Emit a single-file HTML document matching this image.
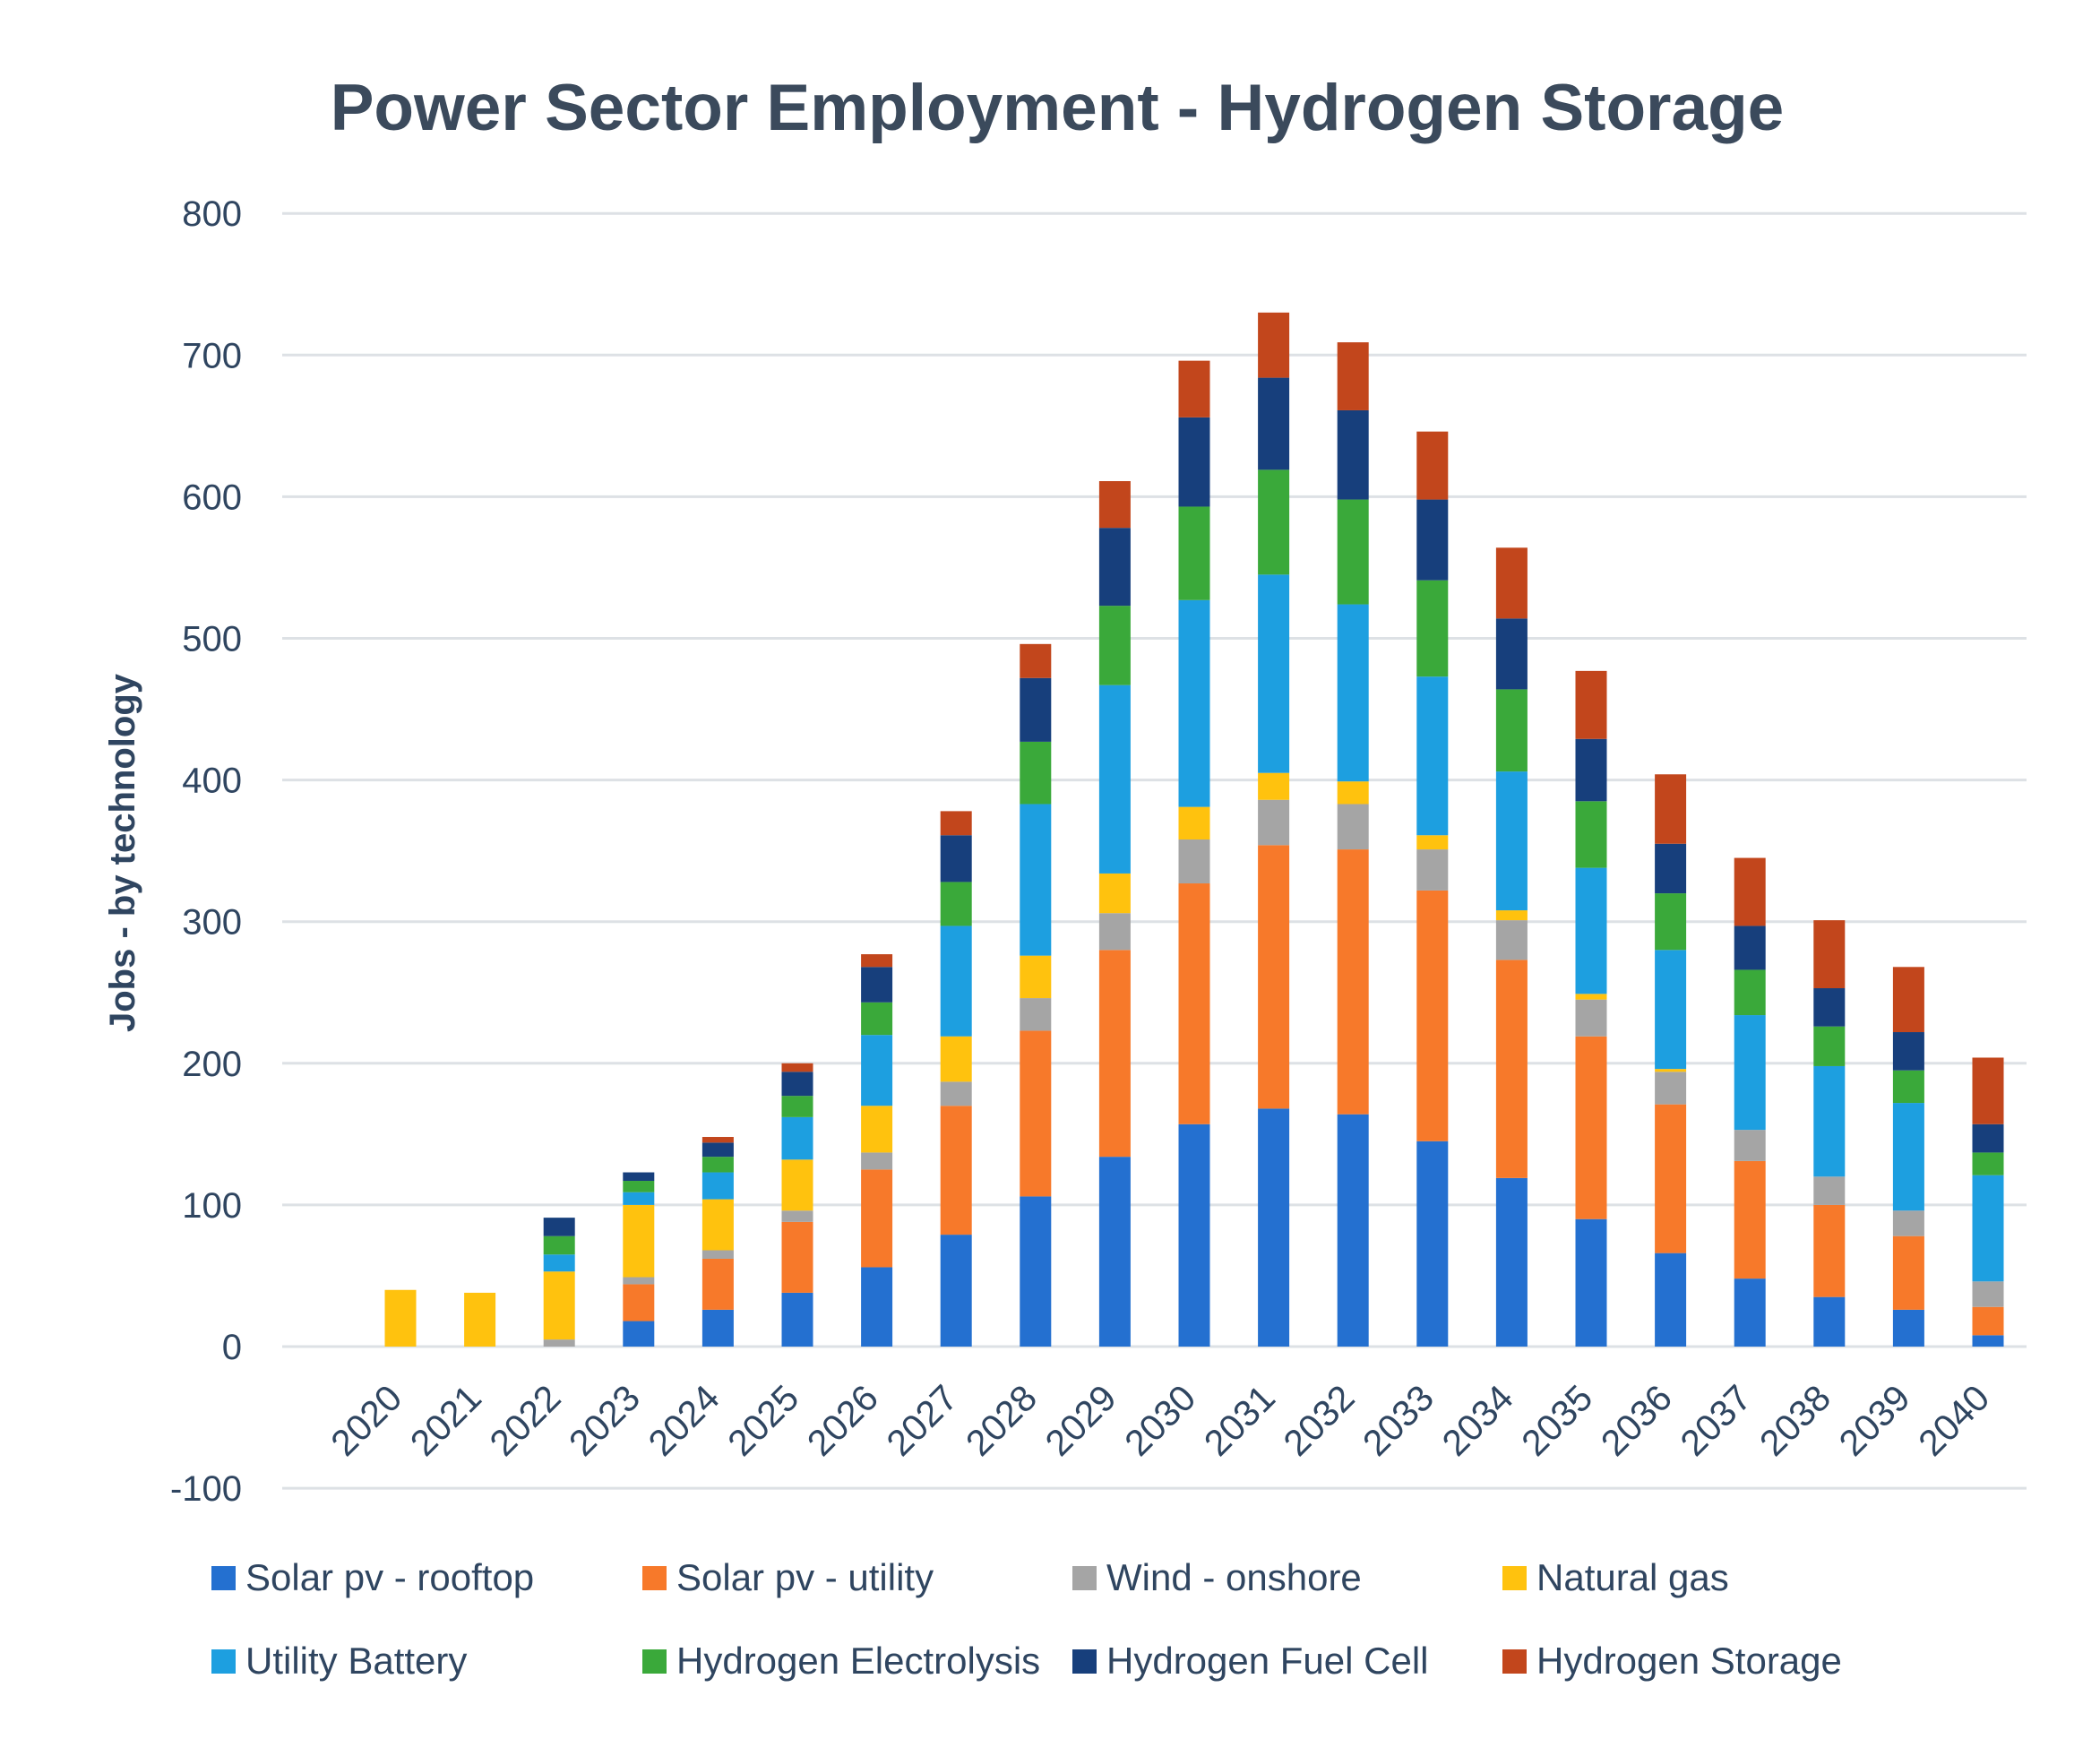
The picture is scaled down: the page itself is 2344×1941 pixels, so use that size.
<!DOCTYPE html>
<html><head><meta charset="utf-8">
<style>
html,body{margin:0;padding:0;background:#fff;}
svg{display:block;font-family:"Liberation Sans",sans-serif;}
</style></head>
<body>
<svg id="chart" width="2344" height="1941" viewBox="0 0 2344 1941" xmlns="http://www.w3.org/2000/svg">
<text x="1180" y="145" text-anchor="middle" font-size="73" font-weight="bold" fill="#3b4a5c">Power Sector Employment - Hydrogen Storage</text>
<text transform="translate(150,952) rotate(-90)" text-anchor="middle" font-size="40" font-weight="bold" fill="#2f4560">Jobs - by technology</text>
<g id="grid"></g><g id="bars"></g><g id="xlabels"></g><g id="legend"></g>
</svg>
<script>
const years=["2020","2021","2022","2023","2024","2025","2026","2027","2028","2029","2030","2031","2032","2033","2034","2035","2036","2037","2038","2039","2040"];
const seriesNames=["Solar pv - rooftop","Solar pv - utility","Wind - onshore","Natural gas","Utility Battery","Hydrogen Electrolysis","Hydrogen Fuel Cell","Hydrogen Storage"];
const rooftop=[0,0,0,18,26,38,56,79,106,134,157,168,164,145,119,90,66,48,35,26,8];
const utility=[0,0,0,26,36,50,69,91,117,146,170,186,187,177,154,129,105,83,65,52,20];
const wind=[0,0,5,5,6,8,12,17,23,26,31,32,32,29,28,26,23,22,20,18,18];
const gas=[40,38,48,51,36,36,33,32,30,28,23,19,16,10,7,4,2,0,0,0,0];
const battery=[0,0,12,9,19,30,50,78,107,133,146,140,125,112,98,89,84,81,78,76,75];
const electrolysis=[0,0,13,8,11,15,23,31,44,56,66,74,74,68,58,47,40,32,28,23,16];
const fuelCell=[0,0,13,6,10,17,25,33,45,55,63,65,63,57,50,44,35,31,27,27,20];
const storage=[0,0,0,0,4,6,9,17,24,33,40,46,48,48,50,48,49,48,48,46,47];
const yTicks=[-100,0,100,200,300,400,500,600,700,800];
const colors=["#2470d0","#f7792a","#a5a5a5","#ffc20e","#1d9fe0","#3aa93a","#173f7c","#c2461c"];
const series=[rooftop,utility,wind,gas,battery,electrolysis,fuelCell,storage];
const NS="http://www.w3.org/2000/svg";
const y0=1503, pxPer=1.581, left=315, right=2262;
const Y=v=>y0-v*pxPer;
const X=i=>447+i*88.6;
function mk(tag,attrs,parent){const e=document.createElementNS(NS,tag);for(const k in attrs)e.setAttribute(k,attrs[k]);parent.appendChild(e);return e;}
const grid=document.getElementById('grid');
yTicks.forEach(t=>{
  const l=mk('line',{x1:left,x2:right,y1:Y(t),y2:Y(t),stroke:'#dde1e5','stroke-width':3},grid);
  
  
  const tx=mk('text',{x:270,y:Y(t)+14,'text-anchor':'end','font-size':40,fill:'#2f4560'},grid);
  tx.textContent=t;
  
  
});
const bars=document.getElementById('bars');
years.forEach((yr,i)=>{
  let cum=0;
  series.forEach((s,k)=>{
    const v=s[i]; if(!v){return;}
    const r=mk('rect',{x:X(i)-17.5,width:35,y:Y(cum+v),height:v*pxPer,fill:colors[k]},bars);
    
    
    cum+=v;
  });
  const t=mk('text',{transform:`translate(${X(i)+4},1563) rotate(-45)`,'text-anchor':'end','font-size':41,fill:'#2f4560'},document.getElementById('xlabels'));
  t.textContent=yr;
  
  
});
const lg=document.getElementById('legend');
const lx=[236,717,1197,1677], ly=[1774,1867];
seriesNames.forEach((n,k)=>{
  const x=lx[k%4], y=ly[Math.floor(k/4)];
  const g=mk('g',{},lg);
  
  
  mk('rect',{x:x,y:y-26,width:27,height:27,fill:colors[k]},g);
  const t=mk('text',{x:x+38,y:y+1,'font-size':42,fill:'#2f4560'},g);
  t.textContent=n;
});
</script>
</body></html>
